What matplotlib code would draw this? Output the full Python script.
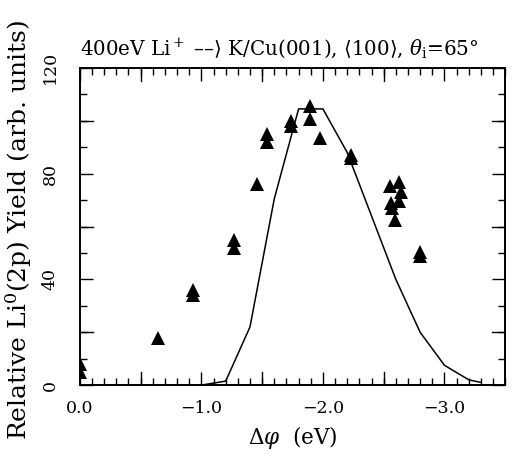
import matplotlib
matplotlib.use('Agg')
import matplotlib.pyplot as plt
from matplotlib.ticker import MultipleLocator, FixedLocator

plt.rcParams['font.family'] = 'DejaVu Serif'
plt.rcParams['mathtext.fontset'] = 'dejavuserif'

# measured Li0(2p) yield (triangles)
dphi_exp = [0.0, 0.0, -0.64, -0.93, -0.93, -1.27, -1.27, -1.46, -1.54, -1.54,
            -1.74, -1.74, -1.89, -1.89, -1.98, -2.23, -2.23,
            -2.55, -2.63, -2.645, -2.56, -2.63, -2.57, -2.595, -2.80, -2.80]
yield_exp = [8, 5, 18, 36, 34, 55, 52, 76, 95, 92,
             100, 98, 105.5, 100.5, 93.5, 87, 86,
             75.5, 77, 73, 69, 69.5, 67, 62.5, 50.5, 49]

# calculated curve
dphi_calc = [-1.0, -1.2, -1.4, -1.6, -1.8, -2.0, -2.2, -2.4, -2.6, -2.8, -3.0, -3.2, -3.3]
yield_calc = [0, 1.5, 22, 70.5, 104.5, 104.5, 88, 64, 40, 20, 7.5, 2, 1]

fig = plt.figure(figsize=(5.15, 4.59), dpi=100)
ax = fig.add_axes([0.155, 0.161, 0.826, 0.691])

ax.plot(dphi_calc, yield_calc, color='black', lw=1.1)
ax.plot(dphi_exp, yield_exp, '^', color='black', ms=9.5, mew=0)

ax.set_xlim(0, -3.5)
ax.set_ylim(0, 120)

ax.xaxis.set_major_locator(FixedLocator([0, -1, -2, -3]))
ax.xaxis.set_minor_locator(MultipleLocator(0.1))
ax.set_xticklabels(['0.0', '\u22121.0', '\u22122.0', '\u22123.0'])
ax.yaxis.set_major_locator(FixedLocator([0, 40, 80, 120]))
ax.yaxis.set_minor_locator(MultipleLocator(10))

# longer ticks every 0.5 eV / 20 units like the original
for x in [-0.5, -1.5, -2.5, -3.5]:
    ax.axvline(x, ymin=0, ymax=0.04, color='black', lw=1)
    ax.axvline(x, ymin=0.96, ymax=1, color='black', lw=1)
for y in [20, 60, 100]:
    ax.axhline(y, xmin=0, xmax=0.03, color='black', lw=1)
    ax.axhline(y, xmin=0.97, xmax=1, color='black', lw=1)

ax.tick_params(which='both', direction='in', top=True, right=True, width=1)
ax.tick_params(which='major', length=9.5, labelsize=12.5)
ax.tick_params(axis='x', which='major', pad=11)
ax.tick_params(axis='y', which='major', pad=15)
ax.tick_params(which='minor', length=5)
for lab in ax.get_yticklabels():
    lab.set_rotation(90)
    lab.set_va('center')
for s in ax.spines.values():
    s.set_linewidth(1.4)

ax.set_xlabel(r'$\Delta\varphi$  (eV)', fontsize=15.5)
ax.xaxis.set_label_coords(0.5, -0.122)
ax.set_ylabel(r'Relative Li$^0$(2p) Yield (arb. units)', fontsize=18)
ax.yaxis.set_label_coords(-0.108, 0.49)
ax.set_title('400eV Li$^+$ \u2013\u2013$\\rangle$ K/Cu(001), $\\langle$100$\\rangle$, $\\theta_{\\rm i}$=65$\\degree$',
             fontsize=14.3, loc='left', pad=9)

fig.savefig('out.png', dpi=100)
